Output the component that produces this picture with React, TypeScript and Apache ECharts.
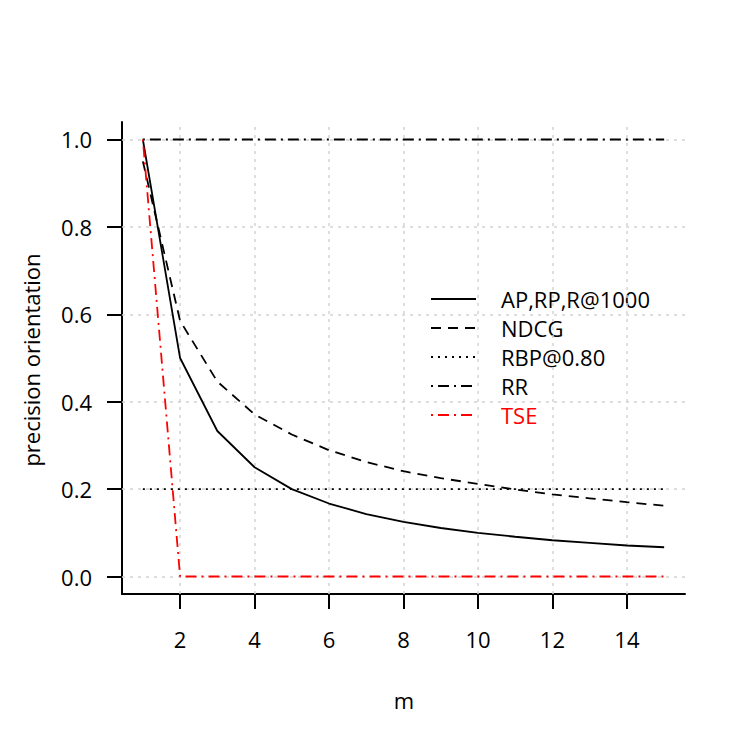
import React, { useEffect, useRef } from "react";
import * as echarts from "echarts";

const mValues = [1, 2, 3, 4, 5, 6, 7, 8, 9, 10, 11, 12, 13, 14, 15];
const apValues = [1, 0.5, 0.333, 0.25, 0.2, 0.167, 0.143, 0.125, 0.111, 0.1, 0.091, 0.083, 0.077, 0.071, 0.067];
const ndcgValues = [0.95, 0.585, 0.446, 0.371, 0.325, 0.289, 0.262, 0.241, 0.225, 0.212, 0.199, 0.188, 0.179, 0.17, 0.162];
const rbpValues = [0.2, 0.2, 0.2, 0.2, 0.2, 0.2, 0.2, 0.2, 0.2, 0.2, 0.2, 0.2, 0.2, 0.2, 0.2];
const rrValues = [1, 1, 1, 1, 1, 1, 1, 1, 1, 1, 1, 1, 1, 1, 1];
const tseValues = [1, 0, 0, 0, 0, 0, 0, 0, 0, 0, 0, 0, 0, 0, 0];
const seriesNames = ["AP,RP,R@1000", "NDCG", "RBP@0.80", "RR", "TSE"];
const xTicks = [2, 4, 6, 8, 10, 12, 14];
const yTicks = [0, 0.2, 0.4, 0.6, 0.8, 1.0];

const FONT = "Open Sans";
const FS = 22;

export default function App() {
  const ref = useRef<HTMLDivElement>(null);
  useEffect(() => {
    const chart = echarts.init(ref.current!, null, { renderer: "svg" });
    const pair = (vals: number[]) => vals.map((v, i) => [mValues[i], v]);
    const lineSeries = (name: string, vals: number[], color: string, type: any) => ({
      name,
      type: "line",
      data: pair(vals),
      symbol: "none",
      z: 5,
      lineStyle: { color, width: 1.8, type },
      itemStyle: { color },
    });
    chart.setOption({
      animation: false,
      backgroundColor: "#fff",
      textStyle: { fontFamily: FONT },
      grid: { left: 122, top: 122, width: 563, height: 472 },
      xAxis: {
        type: "value",
        min: 0.44,
        max: 15.56,
        axisLine: { show: true, onZero: false, lineStyle: { color: "#000", width: 2 } },
        axisTick: { show: true, customValues: xTicks, length: 15, lineStyle: { color: "#000", width: 2 } },
        axisLabel: { customValues: xTicks, margin: 34, fontSize: FS, color: "#000", fontFamily: FONT },
        splitLine: { show: false },
      },
      yAxis: {
        type: "value",
        min: -0.04,
        max: 1.04,
        axisLine: { show: true, onZero: false, lineStyle: { color: "#000", width: 2 } },
        axisTick: { show: true, customValues: yTicks, length: 15, lineStyle: { color: "#000", width: 2 } },
        axisLabel: {
          customValues: yTicks,
          margin: 30,
          fontSize: FS,
          color: "#000",
          fontFamily: FONT,
          formatter: (v: number) => v.toFixed(1),
        },
        splitLine: { show: false },
      },
      legend: {
        orient: "vertical",
        left: 430,
        top: 288,
        padding: 0,
        itemWidth: 45,
        itemHeight: 14,
        itemGap: 7,
        itemStyle: { opacity: 0 },
        textStyle: { fontSize: FS, lineHeight: 22, color: "#000", fontFamily: FONT, padding: [0, 0, 0, 20] },
        data: [
          { name: seriesNames[0] },
          { name: seriesNames[1] },
          { name: seriesNames[2] },
          { name: seriesNames[3] },
          { name: seriesNames[4], textStyle: { color: "#ff0000" } },
        ],
      },
      graphic: [
        {
          type: "text",
          x: 31,
          y: 360,
          rotation: Math.PI / 2,
          style: {
            text: "precision orientation",
            fontSize: FS,
            fontFamily: FONT,
            fill: "#000",
            textAlign: "center",
            textVerticalAlign: "middle",
          },
        },
        {
          type: "text",
          x: 404,
          y: 700,
          style: {
            text: "m",
            fontSize: FS,
            fontFamily: FONT,
            fill: "#000",
            textAlign: "center",
            textVerticalAlign: "middle",
          },
        },
      ],
      series: [
        {
          type: "line",
          data: [],
          z: 1,
          silent: true,
          markLine: {
            silent: true,
            symbol: "none",
            label: { show: false },
            lineStyle: { color: "#d3d3d3", type: [3, 5], width: 1.5 },
            data: [
              ...xTicks.map((v) => ({ xAxis: v })),
              ...yTicks.map((v) => ({ yAxis: v })),
            ],
          },
        },
        lineSeries(seriesNames[0], apValues, "#000", "solid"),
        lineSeries(seriesNames[1], ndcgValues, "#000", [10, 7]),
        lineSeries(seriesNames[2], rbpValues, "#000", [2, 5]),
        lineSeries(seriesNames[3], rrValues, "#000", [2, 5, 11, 5]),
        lineSeries(seriesNames[4], tseValues, "#ff0000", [2, 5, 11, 5]),
      ],
    });
    return () => chart.dispose();
  }, []);
  return <div ref={ref} style={{ position: "fixed", left: 0, top: 0, width: 747, height: 747 }} />;
}
